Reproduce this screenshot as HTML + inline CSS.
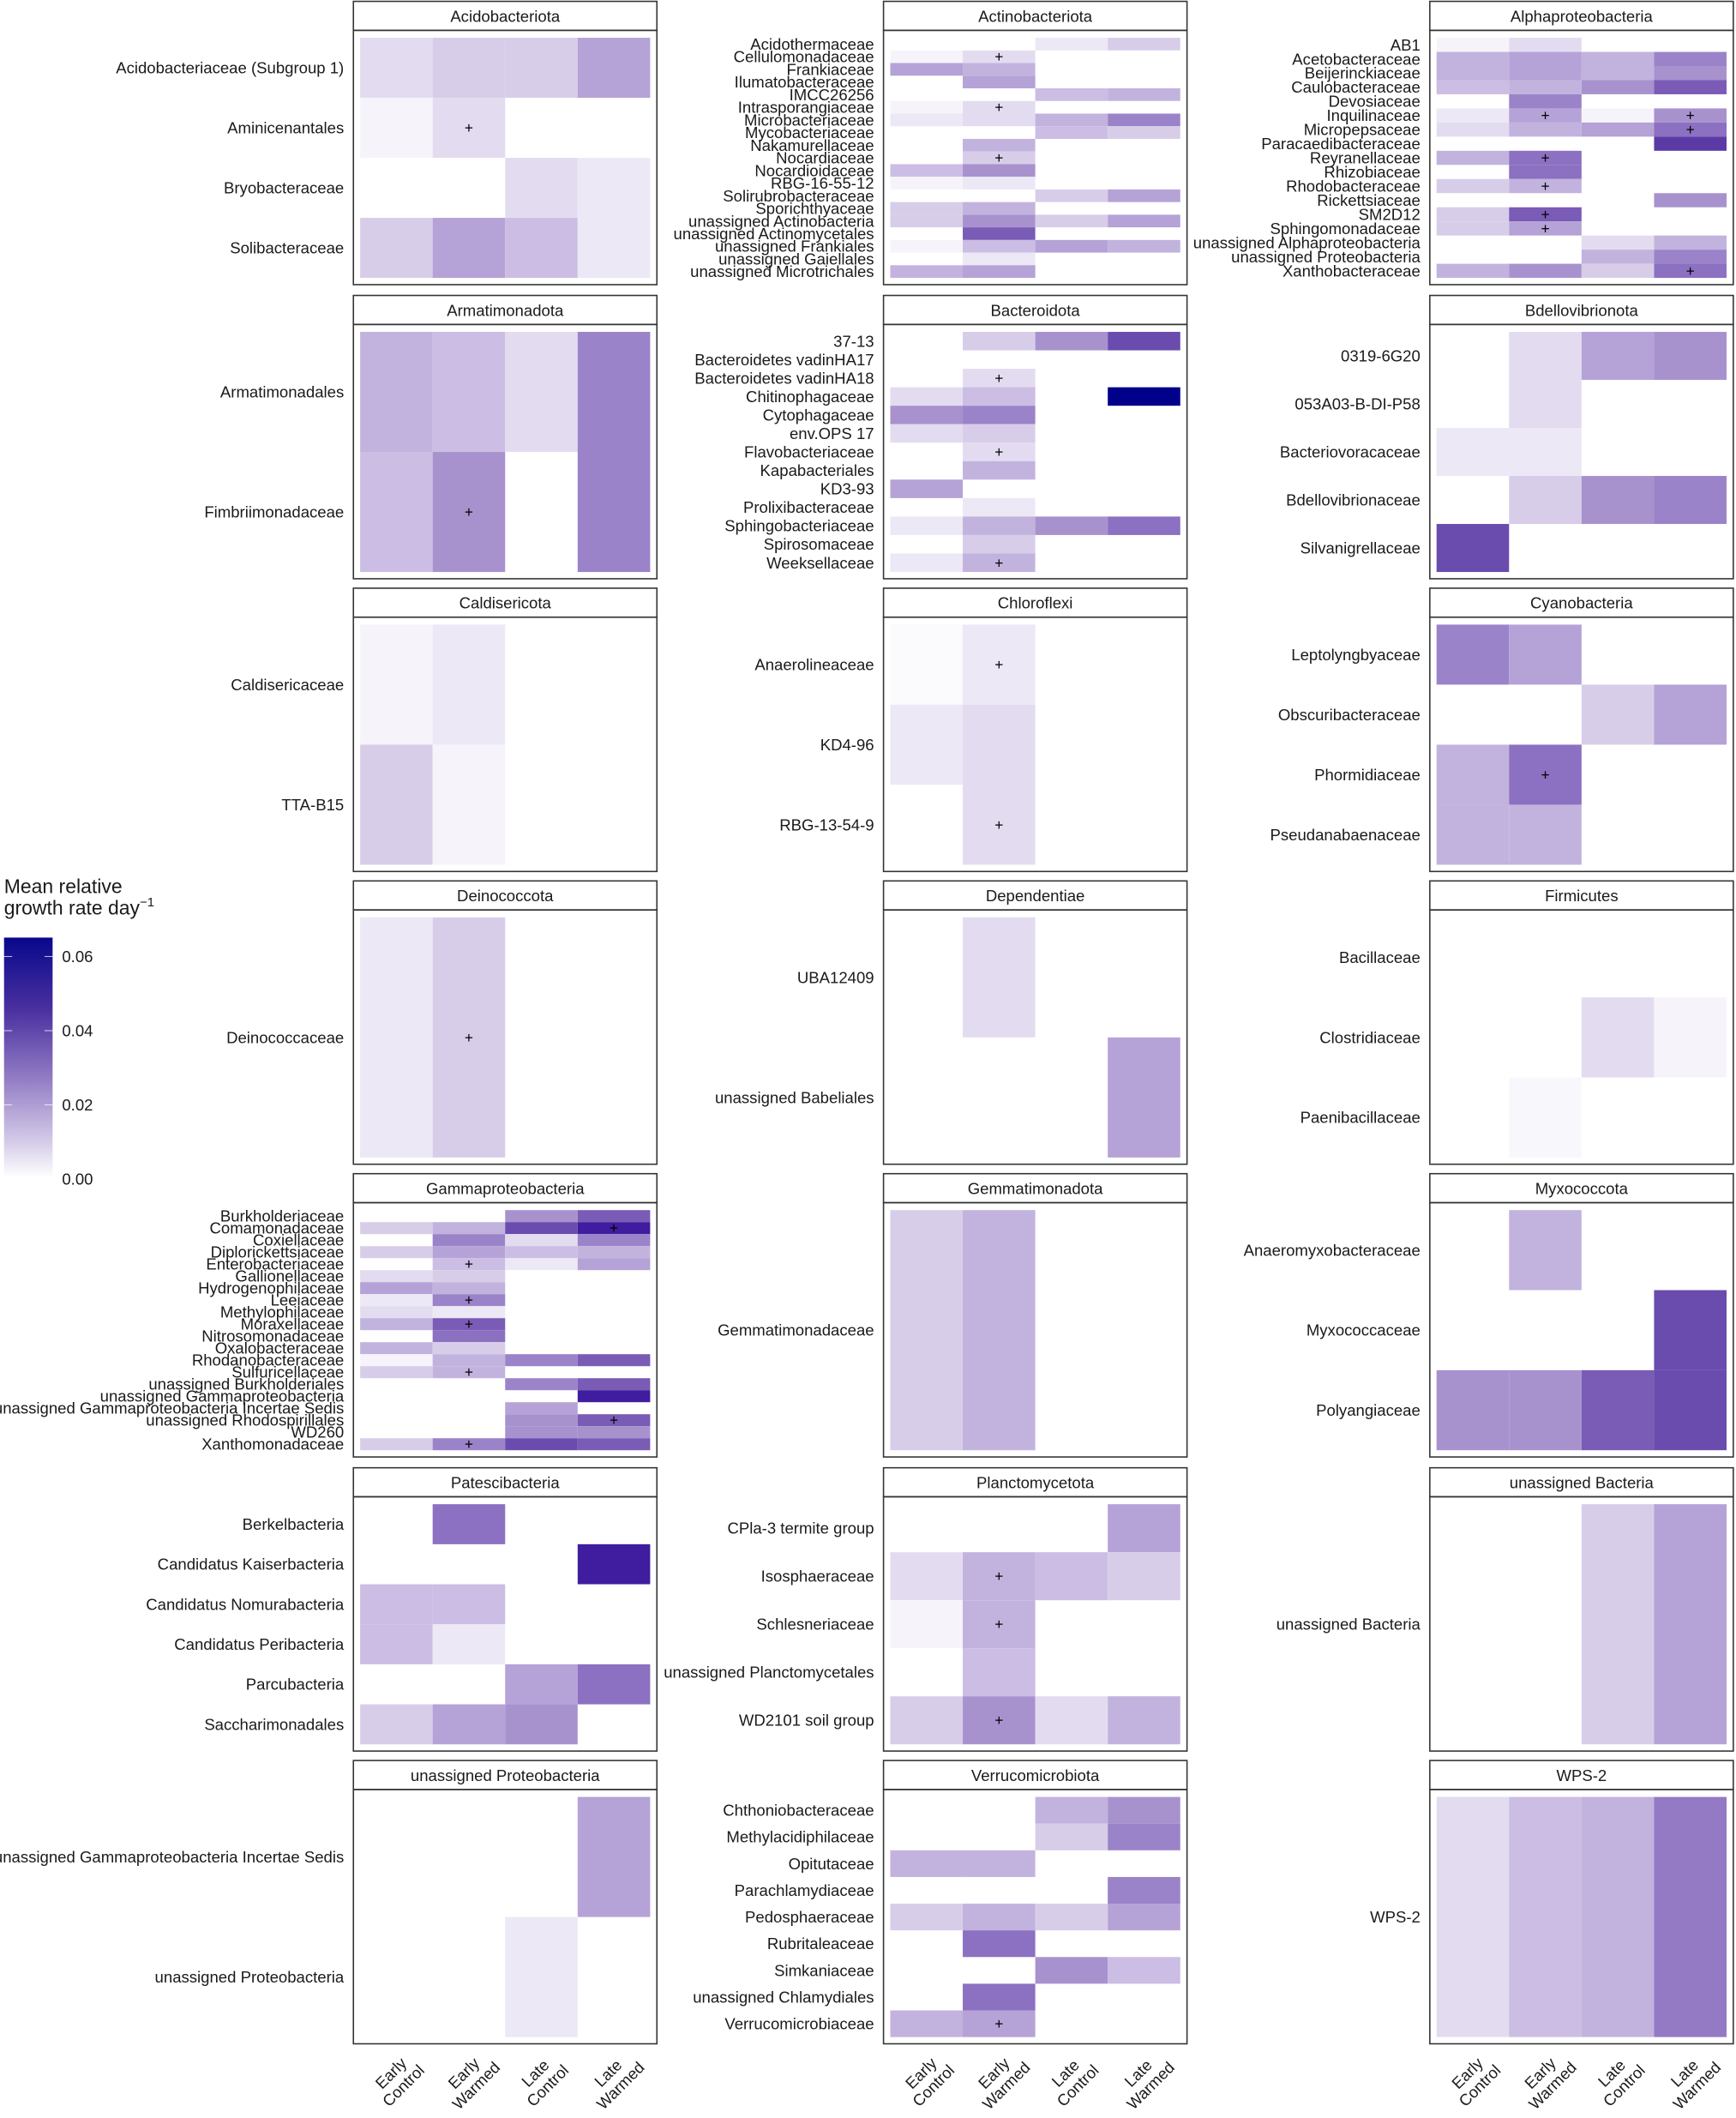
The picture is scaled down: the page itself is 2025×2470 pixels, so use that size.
<!DOCTYPE html>
<html><head><meta charset="utf-8"><style>
html,body{margin:0;padding:0;background:#fff}
svg{display:block}
text{font-family:"Liberation Sans",Arial,sans-serif;font-size:11.8px;fill:#1a1a1a}
.l{text-anchor:end;dominant-baseline:central}
.p{text-anchor:middle;dominant-baseline:central;font-size:11px;fill:#000}
.tt{text-anchor:middle;dominant-baseline:central}
.fr{fill:none;stroke:#333;stroke-width:1}
.a{fill:#f6f4fa}.b{fill:#ece8f5}.c{fill:#e3dcf0}.d{fill:#d8cde9}.e{fill:#cbbde3}.f{fill:#c2b3de}.g{fill:#b5a2d7}.h{fill:#a892ce}.i{fill:#9b83c9}.j{fill:#8c70c1}.k{fill:#7a5bb6}.m_{fill:#6a4cae}.n{fill:#5c3aa6}.m{fill:#3f1d9e}.o{fill:#00008b}
</style></head><body>
<svg width="2025" height="2470" viewBox="0 0 1287 1570" preserveAspectRatio="none" xmlns="http://www.w3.org/2000/svg">
<defs><linearGradient id="lg" x1="0" y1="0" x2="0" y2="1">
<stop offset="0" stop-color="#08088b"/><stop offset="0.3" stop-color="#4a30a0"/><stop offset="0.6" stop-color="#9580c6"/><stop offset="0.85" stop-color="#d5cbe8"/><stop offset="1" stop-color="#ffffff"/></linearGradient></defs>

<!-- legend -->
<text x="3" y="662" style="font-size:14.6px">Mean relative</text>
<text x="3" y="678" style="font-size:14.6px">growth rate day<tspan dy="-6" style="font-size:9.5px">−1</tspan></text>
<rect x="3" y="695" width="36" height="178" fill="url(#lg)"/>
<g stroke="#fff" stroke-width="0.6" opacity="0.8"><line x1="3" y1="709" x2="9" y2="709"/><line x1="33" y1="709" x2="39" y2="709"/><line x1="3" y1="764" x2="9" y2="764"/><line x1="33" y1="764" x2="39" y2="764"/><line x1="3" y1="819" x2="9" y2="819"/><line x1="33" y1="819" x2="39" y2="819"/></g>
<text x="46" y="709" style="dominant-baseline:central">0.06</text>
<text x="46" y="764" style="dominant-baseline:central">0.04</text>
<text x="46" y="819" style="dominant-baseline:central">0.02</text>
<text x="46" y="874" style="dominant-baseline:central">0.00</text>

<!-- Acidobacteriota -->
<g transform="translate(267,28)">
<g transform="scale(53.75,44.5)">
<rect class="c" x="0" y="0" width="1" height="1"/><rect class="d" x="1" y="0" width="1" height="1"/><rect class="d" x="2" y="0" width="1" height="1"/><rect class="g" x="3" y="0" width="1" height="1"/>
<rect class="a" x="0" y="1" width="1" height="1"/><rect class="c" x="1" y="1" width="1" height="1"/>
<rect class="c" x="2" y="2" width="1" height="1"/><rect class="b" x="3" y="2" width="1" height="1"/>
<rect class="d" x="0" y="3" width="1" height="1"/><rect class="g" x="1" y="3" width="1" height="1"/><rect class="e" x="2" y="3" width="1" height="1"/><rect class="b" x="3" y="3" width="1" height="1"/>
</g>
<rect class="fr" x="-5" y="-27" width="225" height="21.5"/><rect class="fr" x="-5" y="-5.5" width="225" height="188.5"/>
<text class="tt" x="107.5" y="-16">Acidobacteriota</text>
<text class="l" x="-12" y="22.25">Acidobacteriaceae (Subgroup 1)</text><text class="l" x="-12" y="66.75">Aminicenantales</text><text class="l" x="-12" y="111.25">Bryobacteraceae</text><text class="l" x="-12" y="155.75">Solibacteraceae</text>
<text class="p" x="80.6" y="66.75">+</text>
</g>

<!-- Actinobacteriota -->
<g transform="translate(660,28)">
<g transform="scale(53.75,9.368)">
<rect class="b" x="2" y="0" width="1" height="1"/><rect class="d" x="3" y="0" width="1" height="1"/>
<rect class="a" x="0" y="1" width="1" height="1"/><rect class="c" x="1" y="1" width="1" height="1"/>
<rect class="g" x="0" y="2" width="1" height="1"/><rect class="f" x="1" y="2" width="1" height="1"/>
<rect class="g" x="1" y="3" width="1" height="1"/>
<rect class="e" x="2" y="4" width="1" height="1"/><rect class="f" x="3" y="4" width="1" height="1"/>
<rect class="a" x="0" y="5" width="1" height="1"/><rect class="c" x="1" y="5" width="1" height="1"/>
<rect class="b" x="0" y="6" width="1" height="1"/><rect class="c" x="1" y="6" width="1" height="1"/><rect class="f" x="2" y="6" width="1" height="1"/><rect class="i" x="3" y="6" width="1" height="1"/>
<rect class="e" x="2" y="7" width="1" height="1"/><rect class="d" x="3" y="7" width="1" height="1"/>
<rect class="f" x="1" y="8" width="1" height="1"/>
<rect class="d" x="1" y="9" width="1" height="1"/>
<rect class="e" x="0" y="10" width="1" height="1"/><rect class="h" x="1" y="10" width="1" height="1"/>
<rect class="a" x="0" y="11" width="1" height="1"/><rect class="b" x="1" y="11" width="1" height="1"/>
<rect class="d" x="2" y="12" width="1" height="1"/><rect class="g" x="3" y="12" width="1" height="1"/>
<rect class="d" x="0" y="13" width="1" height="1"/><rect class="f" x="1" y="13" width="1" height="1"/>
<rect class="d" x="0" y="14" width="1" height="1"/><rect class="h" x="1" y="14" width="1" height="1"/><rect class="d" x="2" y="14" width="1" height="1"/><rect class="g" x="3" y="14" width="1" height="1"/>
<rect class="k" x="1" y="15" width="1" height="1"/>
<rect class="a" x="0" y="16" width="1" height="1"/><rect class="e" x="1" y="16" width="1" height="1"/><rect class="g" x="2" y="16" width="1" height="1"/><rect class="f" x="3" y="16" width="1" height="1"/>
<rect class="b" x="1" y="17" width="1" height="1"/>
<rect class="f" x="0" y="18" width="1" height="1"/><rect class="g" x="1" y="18" width="1" height="1"/>
</g>
<rect class="fr" x="-5" y="-27" width="225" height="21.5"/><rect class="fr" x="-5" y="-5.5" width="225" height="188.5"/>
<text class="tt" x="107.5" y="-16">Actinobacteriota</text>
<text class="l" x="-12" y="4.68">Acidothermaceae</text><text class="l" x="-12" y="14.05">Cellulomonadaceae</text><text class="l" x="-12" y="23.42">Frankiaceae</text><text class="l" x="-12" y="32.79">Ilumatobacteraceae</text><text class="l" x="-12" y="42.16">IMCC26256</text><text class="l" x="-12" y="51.53">Intrasporangiaceae</text><text class="l" x="-12" y="60.89">Microbacteriaceae</text><text class="l" x="-12" y="70.26">Mycobacteriaceae</text><text class="l" x="-12" y="79.63">Nakamurellaceae</text><text class="l" x="-12" y="89">Nocardiaceae</text><text class="l" x="-12" y="98.37">Nocardioidaceae</text><text class="l" x="-12" y="107.74">RBG-16-55-12</text><text class="l" x="-12" y="117.1">Solirubrobacteraceae</text><text class="l" x="-12" y="126.47">Sporichthyaceae</text><text class="l" x="-12" y="135.84">unassigned Actinobacteria</text><text class="l" x="-12" y="145.21">unassigned Actinomycetales</text><text class="l" x="-12" y="154.58">unassigned Frankiales</text><text class="l" x="-12" y="163.95">unassigned Gaiellales</text><text class="l" x="-12" y="173.32">unassigned Microtrichales</text>
<text class="p" x="80.6" y="14.05">+</text><text class="p" x="80.6" y="51.53">+</text><text class="p" x="80.6" y="89">+</text>
</g>

<!-- Alphaproteobacteria -->
<g transform="translate(1065,28)">
<g transform="scale(53.75,10.47)">
<rect class="a" x="0" y="0" width="1" height="1"/><rect class="c" x="1" y="0" width="1" height="1"/>
<rect class="f" x="0" y="1" width="1" height="1"/><rect class="g" x="1" y="1" width="1" height="1"/><rect class="f" x="2" y="1" width="1" height="1"/><rect class="i" x="3" y="1" width="1" height="1"/>
<rect class="f" x="0" y="2" width="1" height="1"/><rect class="g" x="1" y="2" width="1" height="1"/><rect class="f" x="2" y="2" width="1" height="1"/><rect class="h" x="3" y="2" width="1" height="1"/>
<rect class="e" x="0" y="3" width="1" height="1"/><rect class="f" x="1" y="3" width="1" height="1"/><rect class="h" x="2" y="3" width="1" height="1"/><rect class="k" x="3" y="3" width="1" height="1"/>
<rect class="i" x="1" y="4" width="1" height="1"/>
<rect class="b" x="0" y="5" width="1" height="1"/><rect class="g" x="1" y="5" width="1" height="1"/><rect class="a" x="2" y="5" width="1" height="1"/><rect class="h" x="3" y="5" width="1" height="1"/>
<rect class="c" x="0" y="6" width="1" height="1"/><rect class="f" x="1" y="6" width="1" height="1"/><rect class="g" x="2" y="6" width="1" height="1"/><rect class="j" x="3" y="6" width="1" height="1"/>
<rect class="n" x="3" y="7" width="1" height="1"/>
<rect class="f" x="0" y="8" width="1" height="1"/><rect class="j" x="1" y="8" width="1" height="1"/>
<rect class="j" x="1" y="9" width="1" height="1"/>
<rect class="d" x="0" y="10" width="1" height="1"/><rect class="f" x="1" y="10" width="1" height="1"/>
<rect class="h" x="3" y="11" width="1" height="1"/>
<rect class="d" x="0" y="12" width="1" height="1"/><rect class="k" x="1" y="12" width="1" height="1"/>
<rect class="d" x="0" y="13" width="1" height="1"/><rect class="g" x="1" y="13" width="1" height="1"/>
<rect class="c" x="2" y="14" width="1" height="1"/><rect class="f" x="3" y="14" width="1" height="1"/>
<rect class="f" x="2" y="15" width="1" height="1"/><rect class="i" x="3" y="15" width="1" height="1"/>
<rect class="f" x="0" y="16" width="1" height="1"/><rect class="h" x="1" y="16" width="1" height="1"/><rect class="d" x="2" y="16" width="1" height="1"/><rect class="j" x="3" y="16" width="1" height="1"/>
</g>
<rect class="fr" x="-5" y="-27" width="225" height="21.5"/><rect class="fr" x="-5" y="-5.5" width="225" height="188.5"/>
<text class="tt" x="107.5" y="-16">Alphaproteobacteria</text>
<text class="l" x="-12" y="5.24">AB1</text><text class="l" x="-12" y="15.71">Acetobacteraceae</text><text class="l" x="-12" y="26.18">Beijerinckiaceae</text><text class="l" x="-12" y="36.65">Caulobacteraceae</text><text class="l" x="-12" y="47.12">Devosiaceae</text><text class="l" x="-12" y="57.59">Inquilinaceae</text><text class="l" x="-12" y="68.06">Micropepsaceae</text><text class="l" x="-12" y="78.53">Paracaedibacteraceae</text><text class="l" x="-12" y="89">Reyranellaceae</text><text class="l" x="-12" y="99.47">Rhizobiaceae</text><text class="l" x="-12" y="109.94">Rhodobacteraceae</text><text class="l" x="-12" y="120.41">Rickettsiaceae</text><text class="l" x="-12" y="130.88">SM2D12</text><text class="l" x="-12" y="141.35">Sphingomonadaceae</text><text class="l" x="-12" y="151.82">unassigned Alphaproteobacteria</text><text class="l" x="-12" y="162.29">unassigned Proteobacteria</text><text class="l" x="-12" y="172.76">Xanthobacteraceae</text>
<text class="p" x="80.6" y="57.59">+</text><text class="p" x="188.1" y="57.59">+</text><text class="p" x="188.1" y="68.06">+</text><text class="p" x="80.6" y="89">+</text><text class="p" x="80.6" y="109.94">+</text><text class="p" x="80.6" y="130.88">+</text><text class="p" x="80.6" y="141.35">+</text><text class="p" x="188.1" y="172.76">+</text>
</g>

<!-- Armatimonadota -->
<g transform="translate(267,246)">
<g transform="scale(53.75,89)">
<rect class="f" x="0" y="0" width="1" height="1"/><rect class="e" x="1" y="0" width="1" height="1"/><rect class="c" x="2" y="0" width="1" height="1"/><rect class="i" x="3" y="0" width="1" height="2"/>
<rect class="e" x="0" y="1" width="1" height="1"/><rect class="h" x="1" y="1" width="1" height="1"/>
</g>
<rect class="fr" x="-5" y="-27" width="225" height="21.5"/><rect class="fr" x="-5" y="-5.5" width="225" height="188.5"/>
<text class="tt" x="107.5" y="-16">Armatimonadota</text>
<text class="l" x="-12" y="44.5">Armatimonadales</text><text class="l" x="-12" y="133.5">Fimbriimonadaceae</text>
<text class="p" x="80.6" y="133.5">+</text>
</g>

<!-- Bacteroidota -->
<g transform="translate(660,246)">
<g transform="scale(53.75,13.69)">
<rect class="d" x="1" y="0" width="1" height="1"/><rect class="h" x="2" y="0" width="1" height="1"/><rect class="m_" x="3" y="0" width="1" height="1"/>
<rect class="c" x="1" y="2" width="1" height="1"/>
<rect class="c" x="0" y="3" width="1" height="1"/><rect class="e" x="1" y="3" width="1" height="1"/><rect class="o" x="3" y="3" width="1" height="1"/>
<rect class="h" x="0" y="4" width="1" height="1"/><rect class="i" x="1" y="4" width="1" height="1"/>
<rect class="c" x="0" y="5" width="1" height="1"/><rect class="d" x="1" y="5" width="1" height="1"/>
<rect class="c" x="1" y="6" width="1" height="1"/>
<rect class="f" x="1" y="7" width="1" height="1"/>
<rect class="g" x="0" y="8" width="1" height="1"/>
<rect class="b" x="1" y="9" width="1" height="1"/>
<rect class="b" x="0" y="10" width="1" height="1"/><rect class="f" x="1" y="10" width="1" height="1"/><rect class="h" x="2" y="10" width="1" height="1"/><rect class="j" x="3" y="10" width="1" height="1"/>
<rect class="d" x="1" y="11" width="1" height="1"/>
<rect class="b" x="0" y="12" width="1" height="1"/><rect class="f" x="1" y="12" width="1" height="1"/>
</g>
<rect class="fr" x="-5" y="-27" width="225" height="21.5"/><rect class="fr" x="-5" y="-5.5" width="225" height="188.5"/>
<text class="tt" x="107.5" y="-16">Bacteroidota</text>
<text class="l" x="-12" y="6.85">37-13</text><text class="l" x="-12" y="20.54">Bacteroidetes vadinHA17</text><text class="l" x="-12" y="34.23">Bacteroidetes vadinHA18</text><text class="l" x="-12" y="47.92">Chitinophagaceae</text><text class="l" x="-12" y="61.62">Cytophagaceae</text><text class="l" x="-12" y="75.31">env.OPS 17</text><text class="l" x="-12" y="89">Flavobacteriaceae</text><text class="l" x="-12" y="102.69">Kapabacteriales</text><text class="l" x="-12" y="116.38">KD3-93</text><text class="l" x="-12" y="130.08">Prolixibacteraceae</text><text class="l" x="-12" y="143.77">Sphingobacteriaceae</text><text class="l" x="-12" y="157.46">Spirosomaceae</text><text class="l" x="-12" y="171.15">Weeksellaceae</text>
<text class="p" x="80.6" y="34.23">+</text><text class="p" x="80.6" y="89">+</text><text class="p" x="80.6" y="171.15">+</text>
</g>

<!-- Bdellovibrionota -->
<g transform="translate(1065,246)">
<g transform="scale(53.75,35.6)">
<rect class="c" x="1" y="0" width="1" height="1"/><rect class="g" x="2" y="0" width="1" height="1"/><rect class="h" x="3" y="0" width="1" height="1"/>
<rect class="c" x="1" y="1" width="1" height="1"/>
<rect class="b" x="0" y="2" width="1" height="1"/><rect class="b" x="1" y="2" width="1" height="1"/>
<rect class="d" x="1" y="3" width="1" height="1"/><rect class="h" x="2" y="3" width="1" height="1"/><rect class="i" x="3" y="3" width="1" height="1"/>
<rect class="m_" x="0" y="4" width="1" height="1"/>
</g>
<rect class="fr" x="-5" y="-27" width="225" height="21.5"/><rect class="fr" x="-5" y="-5.5" width="225" height="188.5"/>
<text class="tt" x="107.5" y="-16">Bdellovibrionota</text>
<text class="l" x="-12" y="17.8">0319-6G20</text><text class="l" x="-12" y="53.4">053A03-B-DI-P58</text><text class="l" x="-12" y="89">Bacteriovoracaceae</text><text class="l" x="-12" y="124.6">Bdellovibrionaceae</text><text class="l" x="-12" y="160.2">Silvanigrellaceae</text>
</g>

<!-- Caldisericota -->
<g transform="translate(267,463)">
<g transform="scale(53.75,89)">
<rect class="a" x="0" y="0" width="1" height="1"/><rect class="b" x="1" y="0" width="1" height="1"/>
<rect class="d" x="0" y="1" width="1" height="1"/><rect class="a" x="1" y="1" width="1" height="1"/>
</g>
<rect class="fr" x="-5" y="-27" width="225" height="21.5"/><rect class="fr" x="-5" y="-5.5" width="225" height="188.5"/>
<text class="tt" x="107.5" y="-16">Caldisericota</text>
<text class="l" x="-12" y="44.5">Caldisericaceae</text><text class="l" x="-12" y="133.5">TTA-B15</text>
</g>

<!-- Chloroflexi -->
<g transform="translate(660,463)">
<g transform="scale(53.75,59.33)">
<rect fill="#fbfafd" x="0" y="0" width="1" height="1"/><rect class="b" x="1" y="0" width="1" height="1"/>
<rect class="b" x="0" y="1" width="1" height="1"/><rect class="c" x="1" y="1" width="1" height="1"/>
<rect class="c" x="1" y="2" width="1" height="1"/>
</g>
<rect class="fr" x="-5" y="-27" width="225" height="21.5"/><rect class="fr" x="-5" y="-5.5" width="225" height="188.5"/>
<text class="tt" x="107.5" y="-16">Chloroflexi</text>
<text class="l" x="-12" y="29.67">Anaerolineaceae</text><text class="l" x="-12" y="89">KD4-96</text><text class="l" x="-12" y="148.33">RBG-13-54-9</text>
<text class="p" x="80.6" y="29.67">+</text><text class="p" x="80.6" y="148.33">+</text>
</g>

<!-- Cyanobacteria -->
<g transform="translate(1065,463)">
<g transform="scale(53.75,44.5)">
<rect class="i" x="0" y="0" width="1" height="1"/><rect class="g" x="1" y="0" width="1" height="1"/>
<rect class="d" x="2" y="1" width="1" height="1"/><rect class="g" x="3" y="1" width="1" height="1"/>
<rect class="f" x="0" y="2" width="1" height="1"/><rect class="j" x="1" y="2" width="1" height="1"/>
<rect class="f" x="0" y="3" width="1" height="1"/><rect class="f" x="1" y="3" width="1" height="1"/>
</g>
<rect class="fr" x="-5" y="-27" width="225" height="21.5"/><rect class="fr" x="-5" y="-5.5" width="225" height="188.5"/>
<text class="tt" x="107.5" y="-16">Cyanobacteria</text>
<text class="l" x="-12" y="22.25">Leptolyngbyaceae</text><text class="l" x="-12" y="66.75">Obscuribacteraceae</text><text class="l" x="-12" y="111.25">Phormidiaceae</text><text class="l" x="-12" y="155.75">Pseudanabaenaceae</text>
<text class="p" x="80.6" y="111.25">+</text>
</g>

<!-- Deinococcota -->
<g transform="translate(267,680)">
<g transform="scale(53.75,178)">
<rect class="b" x="0" y="0" width="1" height="1"/><rect class="d" x="1" y="0" width="1" height="1"/>
</g>
<rect class="fr" x="-5" y="-27" width="225" height="21.5"/><rect class="fr" x="-5" y="-5.5" width="225" height="188.5"/>
<text class="tt" x="107.5" y="-16">Deinococcota</text>
<text class="l" x="-12" y="89">Deinococcaceae</text>
<text class="p" x="80.6" y="89">+</text>
</g>

<!-- Dependentiae -->
<g transform="translate(660,680)">
<g transform="scale(53.75,89)">
<rect class="c" x="1" y="0" width="1" height="1"/>
<rect class="g" x="3" y="1" width="1" height="1"/>
</g>
<rect class="fr" x="-5" y="-27" width="225" height="21.5"/><rect class="fr" x="-5" y="-5.5" width="225" height="188.5"/>
<text class="tt" x="107.5" y="-16">Dependentiae</text>
<text class="l" x="-12" y="44.5">UBA12409</text><text class="l" x="-12" y="133.5">unassigned Babeliales</text>
</g>

<!-- Firmicutes -->
<g transform="translate(1065,680)">
<g transform="scale(53.75,59.33)">
<rect class="c" x="2" y="1" width="1" height="1"/><rect class="a" x="3" y="1" width="1" height="1"/>
<rect fill="#f8f7fc" x="1" y="2" width="1" height="1"/>
</g>
<rect class="fr" x="-5" y="-27" width="225" height="21.5"/><rect class="fr" x="-5" y="-5.5" width="225" height="188.5"/>
<text class="tt" x="107.5" y="-16">Firmicutes</text>
<text class="l" x="-12" y="29.67">Bacillaceae</text><text class="l" x="-12" y="89">Clostridiaceae</text><text class="l" x="-12" y="148.33">Paenibacillaceae</text>
</g>

<!-- Gammaproteobacteria -->
<g transform="translate(267,897)">
<g transform="scale(53.75,8.9)">
<rect class="h" x="2" y="0" width="1" height="1"/><rect class="k" x="3" y="0" width="1" height="1"/>
<rect class="d" x="0" y="1" width="1" height="1"/><rect class="f" x="1" y="1" width="1" height="1"/><rect class="m_" x="2" y="1" width="1" height="1"/><rect class="m" x="3" y="1" width="1" height="1"/>
<rect class="i" x="1" y="2" width="1" height="1"/><rect class="c" x="2" y="2" width="1" height="1"/><rect class="i" x="3" y="2" width="1" height="1"/>
<rect class="d" x="0" y="3" width="1" height="1"/><rect class="g" x="1" y="3" width="1" height="1"/><rect class="e" x="2" y="3" width="1" height="1"/><rect class="f" x="3" y="3" width="1" height="1"/>
<rect class="e" x="1" y="4" width="1" height="1"/><rect class="b" x="2" y="4" width="1" height="1"/><rect class="g" x="3" y="4" width="1" height="1"/>
<rect class="c" x="0" y="5" width="1" height="1"/><rect class="d" x="1" y="5" width="1" height="1"/>
<rect class="g" x="0" y="6" width="1" height="1"/><rect class="f" x="1" y="6" width="1" height="1"/>
<rect class="b" x="0" y="7" width="1" height="1"/><rect class="i" x="1" y="7" width="1" height="1"/>
<rect class="c" x="0" y="8" width="1" height="1"/><rect class="b" x="1" y="8" width="1" height="1"/>
<rect class="f" x="0" y="9" width="1" height="1"/><rect class="k" x="1" y="9" width="1" height="1"/>
<rect class="j" x="1" y="10" width="1" height="1"/>
<rect class="f" x="0" y="11" width="1" height="1"/><rect class="d" x="1" y="11" width="1" height="1"/>
<rect class="a" x="0" y="12" width="1" height="1"/><rect class="f" x="1" y="12" width="1" height="1"/><rect class="i" x="2" y="12" width="1" height="1"/><rect class="k" x="3" y="12" width="1" height="1"/>
<rect class="d" x="0" y="13" width="1" height="1"/><rect class="f" x="1" y="13" width="1" height="1"/>
<rect class="i" x="2" y="14" width="1" height="1"/><rect class="k" x="3" y="14" width="1" height="1"/>
<rect class="m" x="3" y="15" width="1" height="1"/>
<rect class="g" x="2" y="16" width="1" height="1"/>
<rect class="h" x="2" y="17" width="1" height="1"/><rect class="k" x="3" y="17" width="1" height="1"/>
<rect class="h" x="2" y="18" width="1" height="1"/><rect class="h" x="3" y="18" width="1" height="1"/>
<rect class="d" x="0" y="19" width="1" height="1"/><rect class="i" x="1" y="19" width="1" height="1"/><rect class="m_" x="2" y="19" width="1" height="1"/><rect class="k" x="3" y="19" width="1" height="1"/>
</g>
<rect class="fr" x="-5" y="-27" width="225" height="21.5"/><rect class="fr" x="-5" y="-5.5" width="225" height="188.5"/>
<text class="tt" x="107.5" y="-16">Gammaproteobacteria</text>
<text class="l" x="-12" y="4.45">Burkholderiaceae</text><text class="l" x="-12" y="13.35">Comamonadaceae</text><text class="l" x="-12" y="22.25">Coxiellaceae</text><text class="l" x="-12" y="31.15">Diplorickettsiaceae</text><text class="l" x="-12" y="40.05">Enterobacteriaceae</text><text class="l" x="-12" y="48.95">Gallionellaceae</text><text class="l" x="-12" y="57.85">Hydrogenophilaceae</text><text class="l" x="-12" y="66.75">Leeiaceae</text><text class="l" x="-12" y="75.65">Methylophilaceae</text><text class="l" x="-12" y="84.55">Moraxellaceae</text><text class="l" x="-12" y="93.45">Nitrosomonadaceae</text><text class="l" x="-12" y="102.35">Oxalobacteraceae</text><text class="l" x="-12" y="111.25">Rhodanobacteraceae</text><text class="l" x="-12" y="120.15">Sulfuricellaceae</text><text class="l" x="-12" y="129.05">unassigned Burkholderiales</text><text class="l" x="-12" y="137.95">unassigned Gammaproteobacteria</text><text class="l" x="-12" y="146.85">unassigned Gammaproteobacteria Incertae Sedis</text><text class="l" x="-12" y="155.75">unassigned Rhodospirillales</text><text class="l" x="-12" y="164.65">WD260</text><text class="l" x="-12" y="173.55">Xanthomonadaceae</text>
<text class="p" x="188.1" y="13.35">+</text><text class="p" x="80.6" y="40.05">+</text><text class="p" x="80.6" y="66.75">+</text><text class="p" x="80.6" y="84.55">+</text><text class="p" x="80.6" y="120.15">+</text><text class="p" x="188.1" y="155.75">+</text><text class="p" x="80.6" y="173.55">+</text>
</g>

<!-- Gemmatimonadota -->
<g transform="translate(660,897)">
<g transform="scale(53.75,178)">
<rect class="d" x="0" y="0" width="1" height="1"/><rect class="f" x="1" y="0" width="1" height="1"/>
</g>
<rect class="fr" x="-5" y="-27" width="225" height="21.5"/><rect class="fr" x="-5" y="-5.5" width="225" height="188.5"/>
<text class="tt" x="107.5" y="-16">Gemmatimonadota</text>
<text class="l" x="-12" y="89">Gemmatimonadaceae</text>
</g>

<!-- Myxococcota -->
<g transform="translate(1065,897)">
<g transform="scale(53.75,59.33)">
<rect class="f" x="1" y="0" width="1" height="1"/>
<rect class="m_" x="3" y="1" width="1" height="1"/>
<rect class="h" x="0" y="2" width="1" height="1"/><rect class="h" x="1" y="2" width="1" height="1"/><rect class="k" x="2" y="2" width="1" height="1"/><rect class="m_" x="3" y="2" width="1" height="1"/>
</g>
<rect class="fr" x="-5" y="-27" width="225" height="21.5"/><rect class="fr" x="-5" y="-5.5" width="225" height="188.5"/>
<text class="tt" x="107.5" y="-16">Myxococcota</text>
<text class="l" x="-12" y="29.67">Anaeromyxobacteraceae</text><text class="l" x="-12" y="89">Myxococcaceae</text><text class="l" x="-12" y="148.33">Polyangiaceae</text>
</g>

<!-- Patescibacteria -->
<g transform="translate(267,1115)">
<g transform="scale(53.75,29.67)">
<rect class="j" x="1" y="0" width="1" height="1"/>
<rect class="m" x="3" y="1" width="1" height="1"/>
<rect class="e" x="0" y="2" width="1" height="1"/><rect class="e" x="1" y="2" width="1" height="1"/>
<rect class="e" x="0" y="3" width="1" height="1"/><rect class="b" x="1" y="3" width="1" height="1"/>
<rect class="g" x="2" y="4" width="1" height="1"/><rect class="j" x="3" y="4" width="1" height="1"/>
<rect class="d" x="0" y="5" width="1" height="1"/><rect class="g" x="1" y="5" width="1" height="1"/><rect class="h" x="2" y="5" width="1" height="1"/>
</g>
<rect class="fr" x="-5" y="-27" width="225" height="21.5"/><rect class="fr" x="-5" y="-5.5" width="225" height="188.5"/>
<text class="tt" x="107.5" y="-16">Patescibacteria</text>
<text class="l" x="-12" y="14.83">Berkelbacteria</text><text class="l" x="-12" y="44.5">Candidatus Kaiserbacteria</text><text class="l" x="-12" y="74.17">Candidatus Nomurabacteria</text><text class="l" x="-12" y="103.83">Candidatus Peribacteria</text><text class="l" x="-12" y="133.5">Parcubacteria</text><text class="l" x="-12" y="163.17">Saccharimonadales</text>
</g>

<!-- Planctomycetota -->
<g transform="translate(660,1115)">
<g transform="scale(53.75,35.6)">
<rect class="g" x="3" y="0" width="1" height="1"/>
<rect class="c" x="0" y="1" width="1" height="1"/><rect class="f" x="1" y="1" width="1" height="1"/><rect class="e" x="2" y="1" width="1" height="1"/><rect class="d" x="3" y="1" width="1" height="1"/>
<rect class="a" x="0" y="2" width="1" height="1"/><rect class="f" x="1" y="2" width="1" height="1"/>
<rect class="e" x="1" y="3" width="1" height="1"/>
<rect class="d" x="0" y="4" width="1" height="1"/><rect class="h" x="1" y="4" width="1" height="1"/><rect class="c" x="2" y="4" width="1" height="1"/><rect class="f" x="3" y="4" width="1" height="1"/>
</g>
<rect class="fr" x="-5" y="-27" width="225" height="21.5"/><rect class="fr" x="-5" y="-5.5" width="225" height="188.5"/>
<text class="tt" x="107.5" y="-16">Planctomycetota</text>
<text class="l" x="-12" y="17.8">CPla-3 termite group</text><text class="l" x="-12" y="53.4">Isosphaeraceae</text><text class="l" x="-12" y="89">Schlesneriaceae</text><text class="l" x="-12" y="124.6">unassigned Planctomycetales</text><text class="l" x="-12" y="160.2">WD2101 soil group</text>
<text class="p" x="80.6" y="53.4">+</text><text class="p" x="80.6" y="89">+</text><text class="p" x="80.6" y="160.2">+</text>
</g>

<!-- unassigned Bacteria -->
<g transform="translate(1065,1115)">
<g transform="scale(53.75,178)">
<rect class="d" x="2" y="0" width="1" height="1"/><rect class="g" x="3" y="0" width="1" height="1"/>
</g>
<rect class="fr" x="-5" y="-27" width="225" height="21.5"/><rect class="fr" x="-5" y="-5.5" width="225" height="188.5"/>
<text class="tt" x="107.5" y="-16">unassigned Bacteria</text>
<text class="l" x="-12" y="89">unassigned Bacteria</text>
</g>

<!-- unassigned Proteobacteria -->
<g transform="translate(267,1332)">
<g transform="scale(53.75,89)">
<rect class="g" x="3" y="0" width="1" height="1"/>
<rect class="b" x="2" y="1" width="1" height="1"/>
</g>
<rect class="fr" x="-5" y="-27" width="225" height="21.5"/><rect class="fr" x="-5" y="-5.5" width="225" height="188.5"/>
<text class="tt" x="107.5" y="-16">unassigned Proteobacteria</text>
<text class="l" x="-12" y="44.5">unassigned Gammaproteobacteria Incertae Sedis</text><text class="l" x="-12" y="133.5">unassigned Proteobacteria</text>
</g>

<!-- Verrucomicrobiota -->
<g transform="translate(660,1332)">
<g transform="scale(53.75,19.78)">
<rect class="f" x="2" y="0" width="1" height="1"/><rect class="h" x="3" y="0" width="1" height="1"/>
<rect class="d" x="2" y="1" width="1" height="1"/><rect class="i" x="3" y="1" width="1" height="1"/>
<rect class="f" x="0" y="2" width="1" height="1"/><rect class="f" x="1" y="2" width="1" height="1"/>
<rect class="i" x="3" y="3" width="1" height="1"/>
<rect class="d" x="0" y="4" width="1" height="1"/><rect class="f" x="1" y="4" width="1" height="1"/><rect class="d" x="2" y="4" width="1" height="1"/><rect class="g" x="3" y="4" width="1" height="1"/>
<rect class="j" x="1" y="5" width="1" height="1"/>
<rect class="h" x="2" y="6" width="1" height="1"/><rect class="e" x="3" y="6" width="1" height="1"/>
<rect class="j" x="1" y="7" width="1" height="1"/>
<rect class="f" x="0" y="8" width="1" height="1"/><rect class="g" x="1" y="8" width="1" height="1"/>
</g>
<rect class="fr" x="-5" y="-27" width="225" height="21.5"/><rect class="fr" x="-5" y="-5.5" width="225" height="188.5"/>
<text class="tt" x="107.5" y="-16">Verrucomicrobiota</text>
<text class="l" x="-12" y="9.89">Chthoniobacteraceae</text><text class="l" x="-12" y="29.67">Methylacidiphilaceae</text><text class="l" x="-12" y="49.44">Opitutaceae</text><text class="l" x="-12" y="69.22">Parachlamydiaceae</text><text class="l" x="-12" y="89">Pedosphaeraceae</text><text class="l" x="-12" y="108.78">Rubritaleaceae</text><text class="l" x="-12" y="128.56">Simkaniaceae</text><text class="l" x="-12" y="148.33">unassigned Chlamydiales</text><text class="l" x="-12" y="168.11">Verrucomicrobiaceae</text>
<text class="p" x="80.6" y="168.11">+</text>
</g>

<!-- WPS-2 -->
<g transform="translate(1065,1332)">
<g transform="scale(53.75,178)">
<rect class="c" x="0" y="0" width="1" height="1"/><rect class="e" x="1" y="0" width="1" height="1"/><rect class="f" x="2" y="0" width="1" height="1"/><rect fill="#9479c5" x="3" y="0" width="1" height="1"/>
</g>
<rect class="fr" x="-5" y="-27" width="225" height="21.5"/><rect class="fr" x="-5" y="-5.5" width="225" height="188.5"/>
<text class="tt" x="107.5" y="-16">WPS-2</text>
<text class="l" x="-12" y="89">WPS-2</text>
</g>

<!-- x axis labels -->
<g>
<g transform="translate(294,1541) rotate(-45)"><text class="tt" y="-6">Early</text><text class="tt" y="7">Control</text></g>
<g transform="translate(348,1541) rotate(-45)"><text class="tt" y="-6">Early</text><text class="tt" y="7">Warmed</text></g>
<g transform="translate(401,1541) rotate(-45)"><text class="tt" y="-6">Late</text><text class="tt" y="7">Control</text></g>
<g transform="translate(455,1541) rotate(-45)"><text class="tt" y="-6">Late</text><text class="tt" y="7">Warmed</text></g>
<g transform="translate(687,1541) rotate(-45)"><text class="tt" y="-6">Early</text><text class="tt" y="7">Control</text></g>
<g transform="translate(741,1541) rotate(-45)"><text class="tt" y="-6">Early</text><text class="tt" y="7">Warmed</text></g>
<g transform="translate(794,1541) rotate(-45)"><text class="tt" y="-6">Late</text><text class="tt" y="7">Control</text></g>
<g transform="translate(848,1541) rotate(-45)"><text class="tt" y="-6">Late</text><text class="tt" y="7">Warmed</text></g>
<g transform="translate(1092,1541) rotate(-45)"><text class="tt" y="-6">Early</text><text class="tt" y="7">Control</text></g>
<g transform="translate(1146,1541) rotate(-45)"><text class="tt" y="-6">Early</text><text class="tt" y="7">Warmed</text></g>
<g transform="translate(1199,1541) rotate(-45)"><text class="tt" y="-6">Late</text><text class="tt" y="7">Control</text></g>
<g transform="translate(1253,1541) rotate(-45)"><text class="tt" y="-6">Late</text><text class="tt" y="7">Warmed</text></g>
</g>
</svg>
</body></html>
